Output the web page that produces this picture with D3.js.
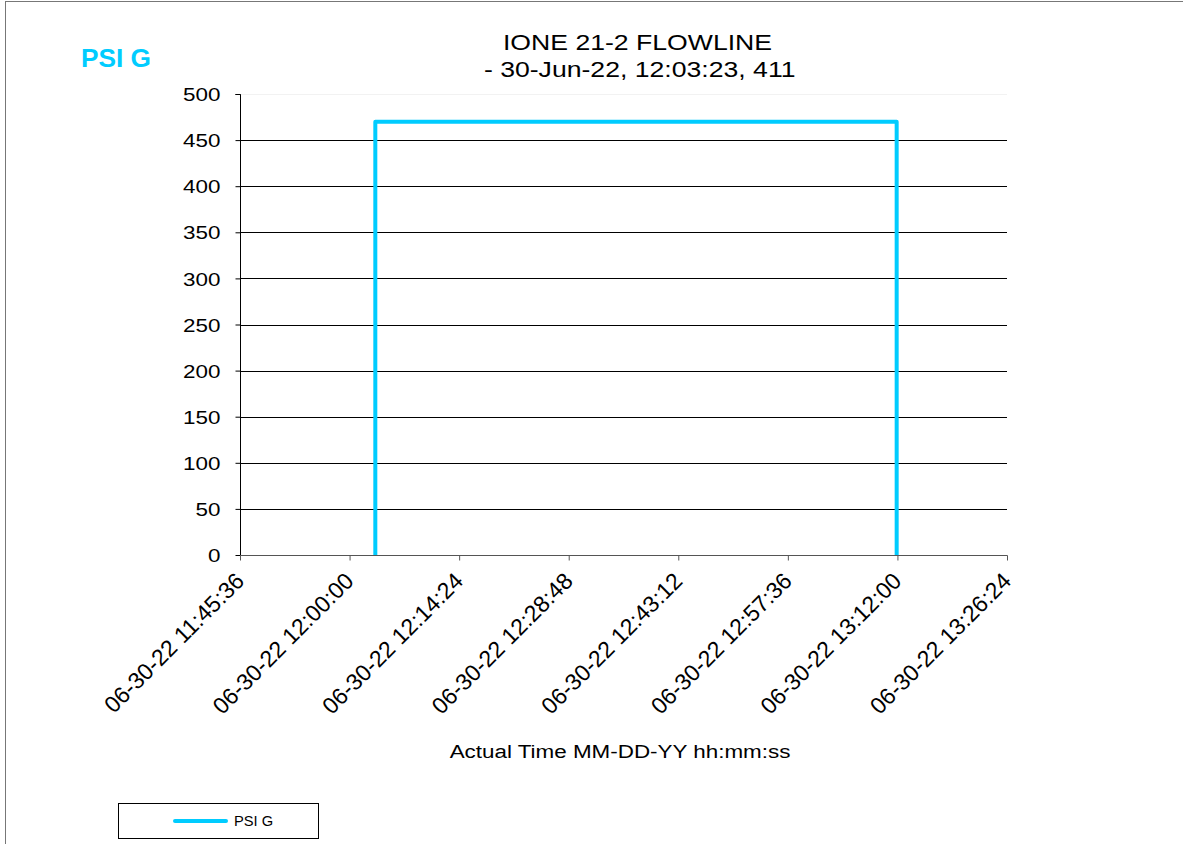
<!DOCTYPE html>
<html><head><meta charset="utf-8">
<script src="https://cdn.jsdelivr.net/npm/d3@7"></script>
<style>body{margin:0;background:#fff}svg{display:block;font-family:"Liberation Sans",Arial,sans-serif}text{white-space:pre}</style>
</head><body><svg id="c" width="1183" height="844"></svg>
<script>
const times = ["2022-06-30T12:03:23","2022-06-30T12:03:23","2022-06-30T13:11:54","2022-06-30T13:11:54"];
const psiValues = [0, 470, 470, 0];
const xTickLabels = ["06-30-22 11:45:36","06-30-22 12:00:00","06-30-22 12:14:24","06-30-22 12:28:48","06-30-22 12:43:12","06-30-22 12:57:36","06-30-22 13:12:00","06-30-22 13:26:24"];
const yTicks = [0,50,100,150,200,250,300,350,400,450,500];
const titleLines = ["IONE 21-2 FLOWLINE"," - 30-Jun-22, 12:03:23, 411"];

const parse = d3.timeParse("%Y-%m-%dT%H:%M:%S");
const parseTick = d3.timeParse("%m-%d-%y %H:%M:%S");
const data = times.map((t,i)=>({t:parse(t), v:psiValues[i]}));
const tickDates = xTickLabels.map(s=>parseTick(s));

const svg = d3.select("#c");
const L=240,R=1007,T=94,B=555;
const color="#00CCFF";
const FF="Liberation Sans, Arial, sans-serif";

svg.append("rect").attr("x",5.5).attr("y",1.5).attr("width",1200).attr("height",900)
  .attr("fill","none").attr("stroke","#777").attr("stroke-width",1);

const x = d3.scaleTime().domain([tickDates[0], tickDates[tickDates.length-1]]).range([L,R]);
const y = d3.scaleLinear().domain([0,500]).range([B,T]);

// gridlines
svg.append("g").selectAll("line").data(yTicks.filter(d=>d>0 && d<500)).join("line")
  .attr("x1",L).attr("x2",R).attr("y1",d=>Math.round(y(d))+0.5).attr("y2",d=>Math.round(y(d))+0.5)
  .attr("stroke","#000").attr("stroke-width",1);
svg.append("line").attr("x1",L).attr("x2",R).attr("y1",T+0.5).attr("y2",T+0.5).attr("stroke","#f2f2f2");

// y axis
const yAxis = d3.axisLeft(y).tickValues(yTicks).tickSize(5).tickPadding(0);
const gy = svg.append("g").attr("transform",`translate(${L+0.5},0)`).call(yAxis);
gy.select(".domain").attr("stroke","#000").attr("d",`M-5,${T+0.5}H0V${B+0.5}`);
gy.selectAll(".tick line").attr("stroke","#000");
gy.selectAll(".tick text").attr("font-size",19).attr("fill","#000").attr("font-family",FF)
  .attr("x",0).attr("dy","0.35em").attr("transform","translate(-20,0) scale(1.18,1)");

// x axis
const xAxis = d3.axisBottom(x).tickValues(tickDates).tickSize(5).tickFormat((d,i)=>xTickLabels[i]);
const gx = svg.append("g").attr("transform",`translate(0,${B+0.5})`).call(xAxis);
gx.select(".domain").attr("stroke","#555").attr("d",`M${L},0H${R+0.5}`);
gx.selectAll(".tick line").attr("stroke","#555");
gx.selectAll(".tick text").attr("font-size",23).attr("fill","#000").attr("font-family",FF)
  .attr("text-anchor","end").attr("dy",0).attr("y",0)
  .attr("transform","translate(5,27) rotate(-45)");

// line
const line = d3.line().x(d=>x(d.t)).y(d=>y(d.v));
svg.append("path").datum(data).attr("d",line).attr("fill","none").attr("stroke",color)
  .attr("stroke-width",4).attr("stroke-linejoin","round");

// titles
function stext(px,py,sx,size,txt,anchor,weight,fill){
  return svg.append("text").attr("transform",`translate(${px},${py}) scale(${sx},1)`)
    .attr("text-anchor",anchor).attr("font-size",size).attr("font-weight",weight||"normal")
    .attr("fill",fill||"#000").text(txt);
}
stext(637.5,50,1.21,22,titleLines[0],"middle");
stext(636,76.5,1.21,22,titleLines[1],"middle");
stext(81,66.5,1.05,25,"PSI G","start","bold",color);
stext(620,758,1.18,19,"Actual Time MM-DD-YY hh:mm:ss","middle");

// legend
svg.append("rect").attr("x",118.5).attr("y",803.5).attr("width",200).attr("height",35).attr("fill","#fff").attr("stroke","#000");
svg.append("line").attr("x1",175).attr("x2",226).attr("y1",821).attr("y2",821).attr("stroke",color).attr("stroke-width",4).attr("stroke-linecap","round");
stext(234,826,1.05,14,"PSI G","start");
</script></body></html>
